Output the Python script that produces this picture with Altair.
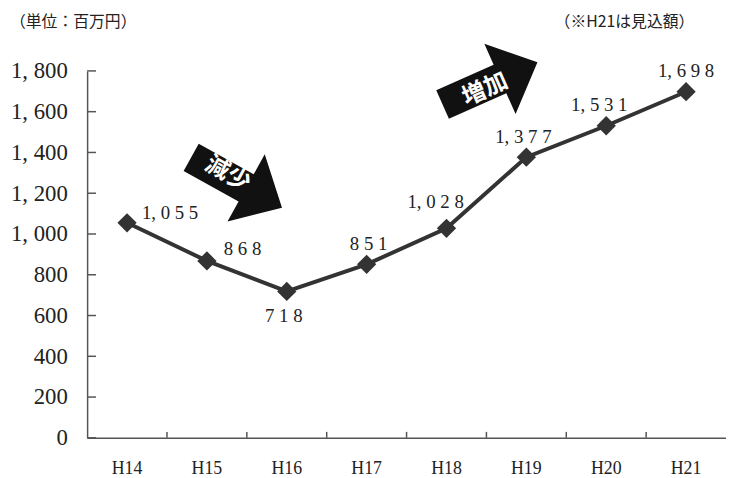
import altair as alt
import pandas as pd

# ---- data ----
years = ["H14", "H15", "H16", "H17", "H18", "H19", "H20", "H21"]
values = [1055, 868, 718, 851, 1028, 1377, 1531, 1698]
y_tick_values = [0, 200, 400, 600, 800, 1000, 1200, 1400, 1600, 1800]
arrow_texts = ["減少", "増加"]
arrow_years = ["H15", "H18"]
arrow_values = [1252, 1739]
unit_note = "（単位：百万円）"
estimate_note = "（※H21は見込額）"

# ---- styles ----
W, H = 646, 371
SERIF = "Liberation Serif"
SANS = "Noto Sans CJK JP"
LINE_COLOR = "#333333"
AXIS_COLOR = "#555555"
TEXT_COLOR = "#222222"
# per-label placement: (align, dx, dy)
LABEL_PLACE = {
    "H14": ("left", 15, -10),
    "H15": ("left", 17, -12),
    "H16": ("center", -3, 25),
    "H17": ("center", 2, -21),
    "H18": ("center", -11, -27),
    "H19": ("center", -3, -20),
    "H20": ("center", -7, -21),
    "H21": ("center", 0, -21),
}
# arrow styles: (angle, xOffset px, text dx, text dy, font size)
ARROW_STYLE = [(29, 30, -12, -3, 24), (336, 44, -7, 4, 24)]
ARROW_PATH = "M-1,-0.3 L0.21,-0.3 L0.21,-0.74 L1,0 L0.21,0.74 L0.21,0.3 L-1,0.3 Z"


def spaced(v):
    s = f"{v:,}"
    head, _, tail = s.rpartition(",")
    digits = " ".join(tail)
    return f"{head}, {digits}" if head else digits


df = pd.DataFrame({
    "year": years,
    "value": values,
    "label": [spaced(v) for v in values],
})
ticks_df = pd.DataFrame({"value": y_tick_values})
xticks_df = pd.DataFrame({"year": years[1:]})

x_axis = alt.Axis(
    title=None, ticks=False, tickSize=0, labelAngle=0,
    labelFont=SERIF, labelFontSize=18, labelColor=TEXT_COLOR, labelPadding=22,
    domainColor=AXIS_COLOR, domainWidth=1.5, grid=False,
)
y_axis = alt.Axis(
    title=None, ticks=False, tickSize=0, values=y_tick_values, grid=False,
    labelExpr="replace(format(datum.value, ','), ',', ', ')",
    labelFont=SERIF, labelFontSize=23, labelColor=TEXT_COLOR, labelPadding=20,
    domainColor=AXIS_COLOR, domainWidth=1.5,
)
x_scale = alt.Scale(type="band", domain=years, paddingInner=0, paddingOuter=0)
y_scale = alt.Scale(domain=[0, 1800], nice=False, zero=True)


def X(**kw):
    return alt.X("year:N", scale=x_scale, axis=x_axis, sort=years, **kw)


def Y():
    return alt.Y("value:Q", scale=y_scale, axis=y_axis)


base = alt.Chart(df)

line = base.mark_line(color=LINE_COLOR, strokeWidth=4).encode(x=X(), y=Y())
points = base.mark_point(
    shape="diamond", filled=True, size=380, color=LINE_COLOR, opacity=1
).encode(x=X(), y=Y())

label_layers = []
for yr in years:
    align, dx, dy = LABEL_PLACE[yr]
    label_layers.append(
        base.transform_filter(alt.datum.year == yr)
        .mark_text(font=SERIF, fontSize=19, color=TEXT_COLOR, align=align,
                   baseline="middle", dx=dx, dy=dy)
        .encode(x=X(), y=Y(), text="label:N")
    )

yticks = alt.Chart(ticks_df).mark_rule(color=AXIS_COLOR, strokeWidth=1.5).encode(
    y=Y(), x=alt.value(0), x2=alt.value(9)
)
xticks = alt.Chart(xticks_df).mark_rule(color=AXIS_COLOR, strokeWidth=1.5).encode(
    x=X(bandPosition=0), y=alt.value(H), y2=alt.value(H - 6)
)

arrow_layers = []
for i, txt in enumerate(arrow_texts):
    ang, xo, tdx, tdy, fs = ARROW_STYLE[i]
    adf = pd.DataFrame({"year": [arrow_years[i]], "value": [arrow_values[i]], "t": [txt]})
    ac = alt.Chart(adf)
    arrow_layers.append(
        ac.mark_point(shape=ARROW_PATH, size=11025, filled=True, color="#111111",
                      opacity=1, angle=ang, xOffset=xo, strokeWidth=0)
        .encode(x=X(), y=Y())
    )
    arrow_layers.append(
        ac.mark_text(font=SANS, fontWeight="bold", fontSize=fs, color="white",
                     angle=ang, xOffset=xo, dx=tdx, dy=tdy,
                     align="center", baseline="middle")
        .encode(x=X(), y=Y(), text="t:N")
    )

unit = alt.Chart(pd.DataFrame({"t": [unit_note]})).mark_text(
    font=SANS, fontSize=16, color=TEXT_COLOR, align="left", baseline="middle"
).encode(x=alt.value(-78), y=alt.value(-49), text="t:N")
note = alt.Chart(pd.DataFrame({"t": [estimate_note]})).mark_text(
    font=SANS, fontSize=16, color=TEXT_COLOR, align="right", baseline="middle"
).encode(x=alt.value(614), y=alt.value(-49), text="t:N")

chart = alt.layer(
    line, points, yticks, xticks, *arrow_layers, *label_layers, unit, note
).properties(
    width=W, height=H,
    autosize=alt.AutoSizeParams(type="none"),
    padding={"left": 80, "top": 61, "right": 0, "bottom": 38},
    background="white",
).configure_view(strokeWidth=0)

chart.save("out.html", embed_options={"renderer": "svg", "actions": False})
